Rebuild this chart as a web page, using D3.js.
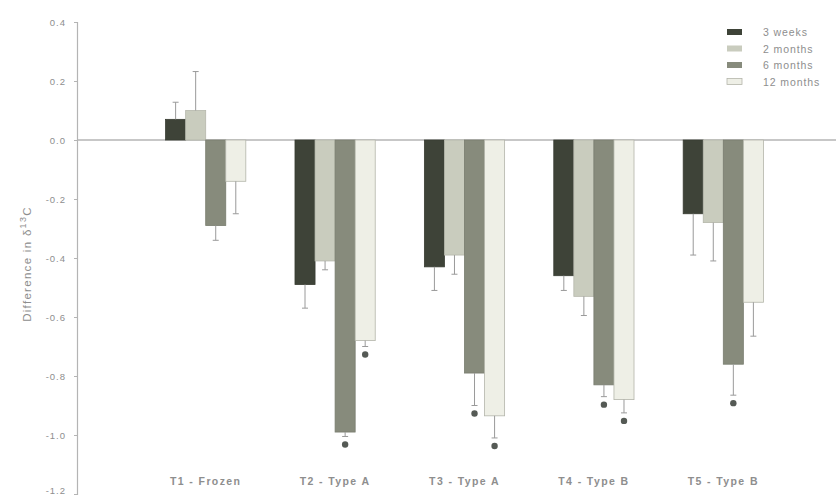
<!DOCTYPE html>
<html><head><meta charset="utf-8">
<script src="https://cdn.jsdelivr.net/npm/d3@7"></script>
<style>html,body{margin:0;padding:0;background:#fff;}svg{display:block;font-family:"Liberation Sans",Arial,sans-serif;}</style>
</head><body><svg id="c" width="836" height="495"></svg>
<script>
const categories = ["T1 - Frozen","T2 - Type A","T3 - Type A","T4 - Type B","T5 - Type B"];
const seriesNames = ["3 weeks","2 months","6 months","12 months"];
const seriesColors = ["#3e4338","#c9ccbe","#878b7c","#eeefe6"];
// mean values per series (order of categories)
const weeks3   = [0.07, -0.49, -0.43, -0.46, -0.25];
const months2  = [0.10, -0.41, -0.39, -0.53, -0.28];
const months6  = [-0.29, -0.99, -0.79, -0.83, -0.76];
const months12 = [-0.14, -0.68, -0.935, -0.88, -0.55];
// error bar ends (one-sided)
const err3w  = [0.128, -0.57, -0.51, -0.51, -0.39];
const err2m  = [0.232, -0.44, -0.455, -0.595, -0.41];
const err6m  = [-0.34, -1.005, -0.90, -0.87, -0.865];
const err12m = [-0.25, -0.70, -1.01, -0.925, -0.665];
// significance markers
const sig3w  = [false,false,false,false,false];
const sig2m  = [false,false,false,false,false];
const sig6m  = [false,true,true,true,true];
const sig12m = [false,true,true,true,false];
const yTicks = [0.4,0.2,0.0,-0.2,-0.4,-0.6,-0.8,-1.0,-1.2];

const values = [weeks3, months2, months6, months12];
const errs = [err3w, err2m, err6m, err12m];
const sigs = [sig3w, sig2m, sig6m, sig12m];

const svg = d3.select("#c");
const axisX = 77;
const y = d3.scaleLinear().domain([-1.2, 0.4]).range([494, 22]);
const x0 = d3.scaleBand().domain(categories).range([141, 788]).paddingInner(0.38).paddingOuter(0.19);
const x1 = d3.scaleBand().domain(seriesNames).range([0, x0.bandwidth()]);

const textCol = "#8e8e8e";
const axisCol = "#b4b4b4";

// y axis
const yAxis = d3.axisLeft(y).tickValues(yTicks).tickSize(3).tickPadding(8);
const gy = svg.append("g").attr("transform", `translate(${axisX},0)`).call(yAxis);
gy.select(".domain").attr("stroke", axisCol).attr("stroke-width", 1.2);
gy.selectAll(".tick line").attr("stroke", axisCol);
gy.selectAll(".tick text").attr("fill", textCol).attr("font-size", 9.5).attr("letter-spacing", 1)
  .text(d => d3.format(".1f")(d).replace("\u2212","-"))
  .attr("dy", d => d === -1.2 ? "-0.05em" : "0.32em");

// zero line
svg.append("line").attr("x1", axisX).attr("x2", 836).attr("y1", y(0)).attr("y2", y(0))
  .attr("stroke", axisCol).attr("stroke-width", 1.3);

// y label
const yl = svg.append("text").attr("transform", `translate(31,${(y(-0.2)+y(-0.6))/2 + 6}) rotate(-90)`)
  .attr("text-anchor","middle").attr("fill", textCol).attr("font-size", 11.5).attr("letter-spacing", 1.3);
yl.append("tspan").text("Difference in \u03b4");
yl.append("tspan").attr("dy", -5).attr("font-size", 9).text("13");
yl.append("tspan").attr("dy", 5).text("C");

// bars
seriesNames.forEach((s, si) => {
  const g = svg.append("g");
  categories.forEach((c, ci) => {
    const v = values[si][ci];
    const bx = x0(c) + x1(s);
    const bw = x1.bandwidth();
    g.append("rect").attr("x", bx).attr("width", bw)
      .attr("y", y(Math.max(0, v))).attr("height", Math.abs(y(v) - y(0)))
      .attr("fill", seriesColors[si])
      .attr("stroke", si === 3 ? "#b3b5aa" : d3.color(seriesColors[si]).darker(0.3))
      .attr("stroke-width", 0.8);
    const cx = bx + bw / 2;
    const e = errs[si][ci];
    g.append("line").attr("x1", cx).attr("x2", cx).attr("y1", y(v)).attr("y2", y(e))
      .attr("stroke", "#9a9a9a").attr("stroke-width", 1);
    g.append("line").attr("x1", cx - 3).attr("x2", cx + 3).attr("y1", y(e)).attr("y2", y(e))
      .attr("stroke", "#9a9a9a").attr("stroke-width", 1);
    if (sigs[si][ci]) {
      g.append("circle").attr("cx", cx).attr("cy", y(e) + 8).attr("r", 3.2).attr("fill", "#555a55");
    }
  });
});

// x labels
svg.append("g").selectAll("text").data(categories).join("text")
  .attr("x", d => x0(d) + x0.bandwidth() / 2).attr("y", 485)
  .attr("text-anchor", "middle").attr("fill", textCol).attr("font-size", 10.5).attr("font-weight", "bold")
  .attr("letter-spacing", 1.4)
  .text(d => d);

// legend
const lg = svg.append("g");
seriesNames.forEach((s, i) => {
  const ly = 32 + i * 16.5;
  lg.append("rect").attr("x", 727).attr("y", ly - 3).attr("width", 15).attr("height", 6)
    .attr("fill", seriesColors[i]).attr("stroke", i === 3 ? "#b3b5aa" : "none").attr("stroke-width", 0.8);
  lg.append("text").attr("x", 763).attr("y", ly + 4).attr("fill", textCol).attr("font-size", 10.5)
    .attr("letter-spacing", 0.9).text(s);
});
</script></body></html>
